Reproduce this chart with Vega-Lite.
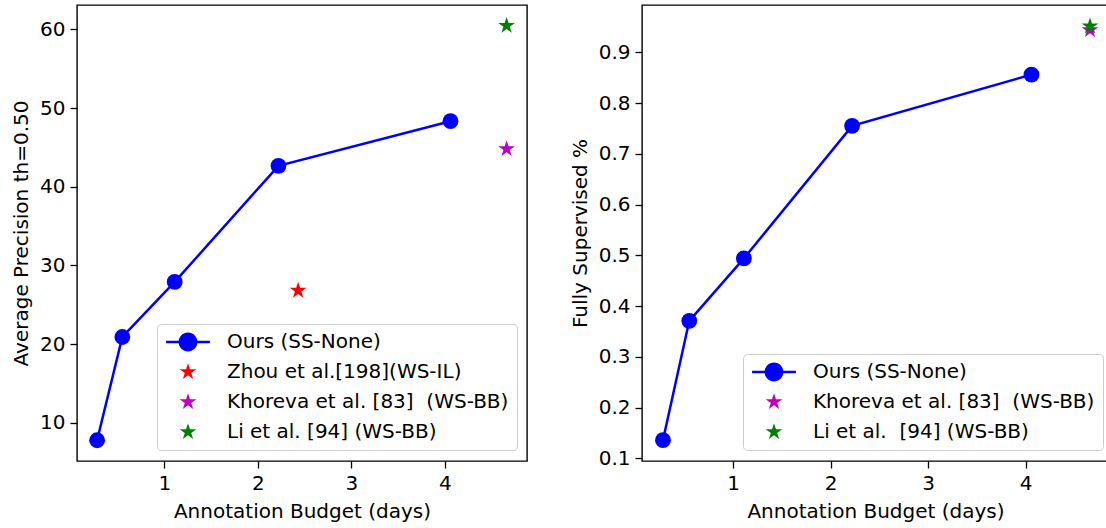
{
  "$schema": "https://vega.github.io/schema/vega-lite/v6.json",
  "padding": {"left": 10, "top": 4, "right": 0, "bottom": 0},
  "background": "white",
  "spacing": 41,
  "config": {
    "font": "DejaVu Sans",
    "view": {"stroke": "#000000", "strokeWidth": 1.4},
    "axis": {"grid": false, "domain": false, "tickColor": "#000000", "tickSize": 7, "tickWidth": 1.3, "labelFont": "DejaVu Sans", "labelFontSize": 20, "labelColor": "#000000", "titleFont": "DejaVu Sans", "titleFontSize": 20, "titleFontWeight": "normal", "titleColor": "#000000", "labelPadding": 5, "titlePadding": 8},
    "legend": {"orient": "none", "fillColor": "rgba(255,255,255,0.8)", "strokeColor": "#cccccc", "cornerRadius": 4, "padding": 8, "symbolSize": 308, "symbolStrokeWidth": 0, "symbolOffset": 13, "labelOffset": 29, "labelFont": "DejaVu Sans", "labelFontSize": 20, "labelColor": "#000000", "labelLimit": 500, "rowPadding": 10, "symbolOpacity": 1}
  },
  "datasets": {
    "ours": [
      {"x": 0.28, "ap": 7.77, "fs": 0.136},
      {"x": 0.55, "ap": 20.9, "fs": 0.371},
      {"x": 1.11, "ap": 27.9, "fs": 0.494},
      {"x": 2.22, "ap": 42.66, "fs": 0.755},
      {"x": 4.06, "ap": 48.33, "fs": 0.856}
    ],
    "starsLeft": [
      {"series": "Zhou et al.[198](WS-IL)", "x": 2.43, "ap": 26.8},
      {"series": "Khoreva et al. [83]\u00a0 (WS-BB)", "x": 4.66, "ap": 44.8},
      {"series": "Li et al. [94] (WS-BB)", "x": 4.66, "ap": 60.47}
    ],
    "starsRight": [
      {"series": "Khoreva et al. [83]\u00a0 (WS-BB)", "x": 4.66, "fs": 0.944},
      {"series": "Li et al.\u00a0 [94] (WS-BB)", "x": 4.66, "fs": 0.951}
    ]
  },
  "resolve": {"scale": {"x": "independent", "y": "independent", "color": "independent", "shape": "independent"}, "legend": {"color": "independent", "shape": "independent"}},
  "hconcat": [
    {
      "width": 450,
      "height": 456,
      "encoding": {
        "x": {"field": "x", "type": "quantitative", "scale": {"domain": [0.065, 4.878], "nice": false, "zero": false}, "axis": {"values": [1, 2, 3, 4], "title": "Annotation Budget (days)"}},
        "y": {"field": "ap", "type": "quantitative", "scale": {"domain": [5.135, 63.1], "nice": false, "zero": false}, "axis": {"values": [10, 20, 30, 40, 50, 60], "title": "Average Precision th=0.50"}}
      },
      "layer": [
        {"data": {"name": "ours"}, "mark": {"type": "line", "color": "#0000ff", "strokeWidth": 2.5}},
        {"data": {"name": "ours"}, "mark": {"type": "point", "filled": true, "shape": "circle", "size": 250, "color": "#0000ff", "opacity": 1}},
        {"data": {"name": "starsLeft"}, "mark": {"type": "point", "filled": true, "size": 308, "opacity": 1, "strokeWidth": 0},
          "encoding": {
            "color": {"field": "series", "type": "nominal", "scale": {"domain": ["Ours (SS-None)", "Zhou et al.[198](WS-IL)", "Khoreva et al. [83]\u00a0 (WS-BB)", "Li et al. [94] (WS-BB)"], "range": ["#0000ff", "#ff0000", "#bf00bf", "#008000"]}, "legend": {"title": null, "orient": "none", "legendX": 80, "legendY": 319}},
            "shape": {"field": "series", "type": "nominal", "scale": {"domain": ["Ours (SS-None)", "Zhou et al.[198](WS-IL)", "Khoreva et al. [83]\u00a0 (WS-BB)", "Li et al. [94] (WS-BB)"], "range": ["M-2.5,-0.14L2.5,-0.14L2.5,0.14L-2.5,0.14Z M-1.07,0A1.07,1.07 0 1,1 1.07,0A1.07,1.07 0 1,1 -1.07,0Z", "M0,-1L0.2245,-0.309L0.9511,-0.309L0.3633,0.118L0.5878,0.809L0,0.382L-0.5878,0.809L-0.3633,0.118L-0.9511,-0.309L-0.2245,-0.309Z", "M0,-1L0.2245,-0.309L0.9511,-0.309L0.3633,0.118L0.5878,0.809L0,0.382L-0.5878,0.809L-0.3633,0.118L-0.9511,-0.309L-0.2245,-0.309Z", "M0,-1L0.2245,-0.309L0.9511,-0.309L0.3633,0.118L0.5878,0.809L0,0.382L-0.5878,0.809L-0.3633,0.118L-0.9511,-0.309L-0.2245,-0.309Z"]}, "legend": {"title": null, "orient": "none", "legendX": 80, "legendY": 319}}
          }
        }
      ]
    },
    {
      "width": 467,
      "height": 456,
      "encoding": {
        "x": {"field": "x", "type": "quantitative", "scale": {"domain": [0.065, 4.855], "nice": false, "zero": false}, "axis": {"values": [1, 2, 3, 4], "title": "Annotation Budget (days)"}},
        "y": {"field": "fs", "type": "quantitative", "scale": {"domain": [0.095, 0.993], "nice": false, "zero": false}, "axis": {"values": [0.1, 0.2, 0.3, 0.4, 0.5, 0.6, 0.7, 0.8, 0.9], "format": ".1f", "title": "Fully Supervised %"}}
      },
      "layer": [
        {"data": {"name": "ours"}, "mark": {"type": "line", "color": "#0000ff", "strokeWidth": 2.5}},
        {"data": {"name": "ours"}, "mark": {"type": "point", "filled": true, "shape": "circle", "size": 250, "color": "#0000ff", "opacity": 1}},
        {"data": {"name": "starsRight"}, "mark": {"type": "point", "filled": true, "size": 308, "opacity": 1, "strokeWidth": 0},
          "encoding": {
            "color": {"field": "series", "type": "nominal", "scale": {"domain": ["Ours (SS-None)", "Khoreva et al. [83]\u00a0 (WS-BB)", "Li et al.\u00a0 [94] (WS-BB)"], "range": ["#0000ff", "#bf00bf", "#008000"]}, "legend": {"title": null, "orient": "none", "legendX": 101, "legendY": 349}},
            "shape": {"field": "series", "type": "nominal", "scale": {"domain": ["Ours (SS-None)", "Khoreva et al. [83]\u00a0 (WS-BB)", "Li et al.\u00a0 [94] (WS-BB)"], "range": ["M-2.5,-0.14L2.5,-0.14L2.5,0.14L-2.5,0.14Z M-1.07,0A1.07,1.07 0 1,1 1.07,0A1.07,1.07 0 1,1 -1.07,0Z", "M0,-1L0.2245,-0.309L0.9511,-0.309L0.3633,0.118L0.5878,0.809L0,0.382L-0.5878,0.809L-0.3633,0.118L-0.9511,-0.309L-0.2245,-0.309Z", "M0,-1L0.2245,-0.309L0.9511,-0.309L0.3633,0.118L0.5878,0.809L0,0.382L-0.5878,0.809L-0.3633,0.118L-0.9511,-0.309L-0.2245,-0.309Z"]}, "legend": {"title": null, "orient": "none", "legendX": 101, "legendY": 349}}
          }
        }
      ]
    }
  ]
}
